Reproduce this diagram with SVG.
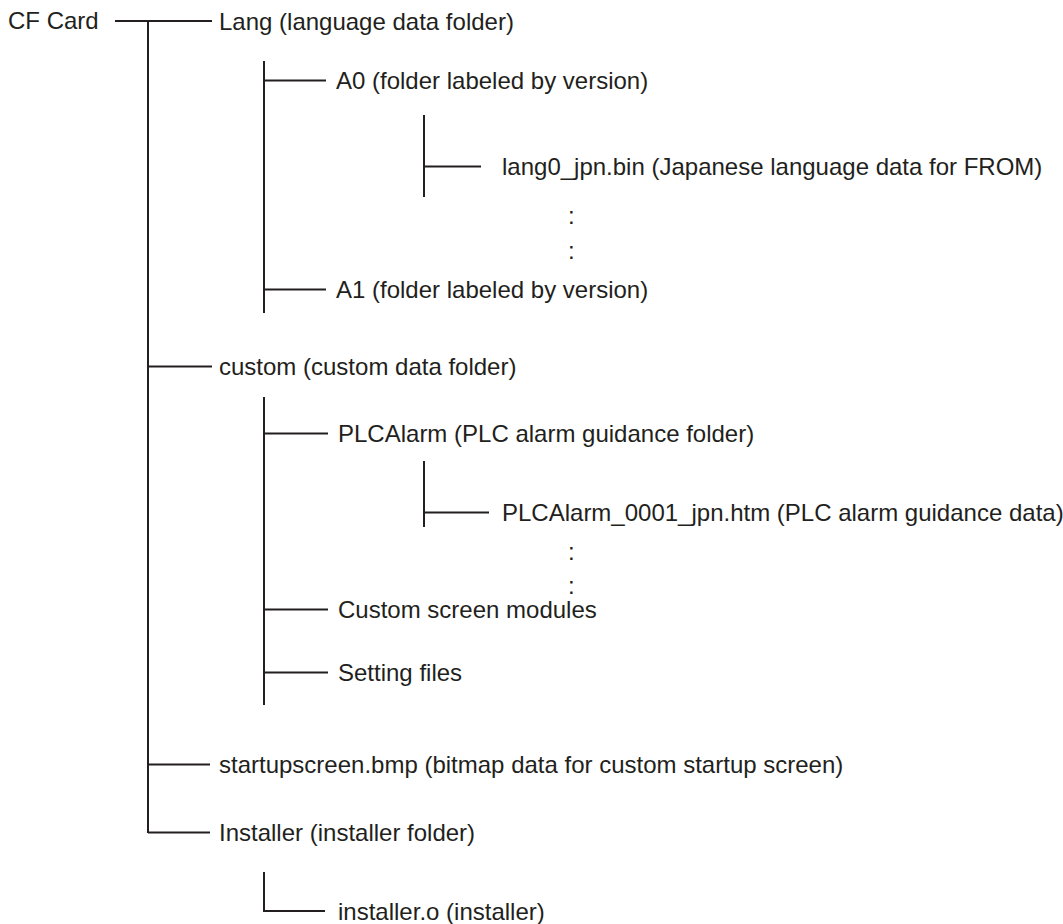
<svg xmlns="http://www.w3.org/2000/svg" width="1063" height="924" viewBox="0 0 1063 924">
<style>
.t{font-family:"Liberation Sans",Arial,sans-serif;font-size:24px;fill:#231f20}
.c{stroke:#231f20;stroke-width:2;fill:none}
</style>
<rect width="1063" height="924" fill="#fff"/>
<g id="connectors" class="c">
<line x1="115" y1="21" x2="212" y2="21"/>
<line x1="148" y1="21" x2="148" y2="833"/>
<line x1="264" y1="61" x2="264" y2="313"/>
<line x1="264" y1="80.5" x2="326" y2="80.5"/>
<line x1="424" y1="115" x2="424" y2="197"/>
<line x1="424" y1="166.5" x2="481" y2="166.5"/>
<line x1="264" y1="289.5" x2="326" y2="289.5"/>
<line x1="148" y1="366.5" x2="212" y2="366.5"/>
<line x1="264" y1="397" x2="264" y2="705"/>
<line x1="264" y1="433.5" x2="328" y2="433.5"/>
<line x1="424" y1="461" x2="424" y2="527"/>
<line x1="424" y1="512.5" x2="489" y2="512.5"/>
<line x1="264" y1="609.5" x2="328" y2="609.5"/>
<line x1="264" y1="672.5" x2="328" y2="672.5"/>
<line x1="148" y1="764.5" x2="210" y2="764.5"/>
<path d="M148 832.5 H210"/>
<path d="M264 872 V911 H325"/>
</g>
<g id="cf-card"><text class="t" x="8" y="29">CF Card</text></g>
<g id="lang"><text class="t" x="219" y="29.5">Lang (language data folder)</text></g>
<g id="a0"><text class="t" x="336" y="88.5">A0 (folder labeled by version)</text></g>
<g id="lang0"><text class="t" x="502" y="175">lang0_jpn.bin (Japanese language data for FROM)</text></g>
<g id="dots1"><text class="t" x="568" y="224">:</text><text class="t" x="568" y="259">:</text></g>
<g id="a1"><text class="t" x="336" y="297.5">A1 (folder labeled by version)</text></g>
<g id="custom"><text class="t" x="219" y="375">custom (custom data folder)</text></g>
<g id="plcalarm"><text class="t" x="338" y="441.5">PLCAlarm (PLC alarm guidance folder)</text></g>
<g id="plcalarm-data"><text class="t" x="502" y="521">PLCAlarm_0001_jpn.htm (PLC alarm guidance data)</text></g>
<g id="dots2"><text class="t" x="568" y="560">:</text><text class="t" x="568" y="594">:</text></g>
<g id="custom-screen"><text class="t" x="338" y="617.5">Custom screen modules</text></g>
<g id="setting-files"><text class="t" x="338" y="680.5">Setting files</text></g>
<g id="startupscreen"><text class="t" x="219" y="772.5">startupscreen.bmp (bitmap data for custom startup screen)</text></g>
<g id="installer"><text class="t" x="219" y="841">Installer (installer folder)</text></g>
<g id="installer-o"><text class="t" x="338" y="919.5">installer.o (installer)</text></g>
</svg>
